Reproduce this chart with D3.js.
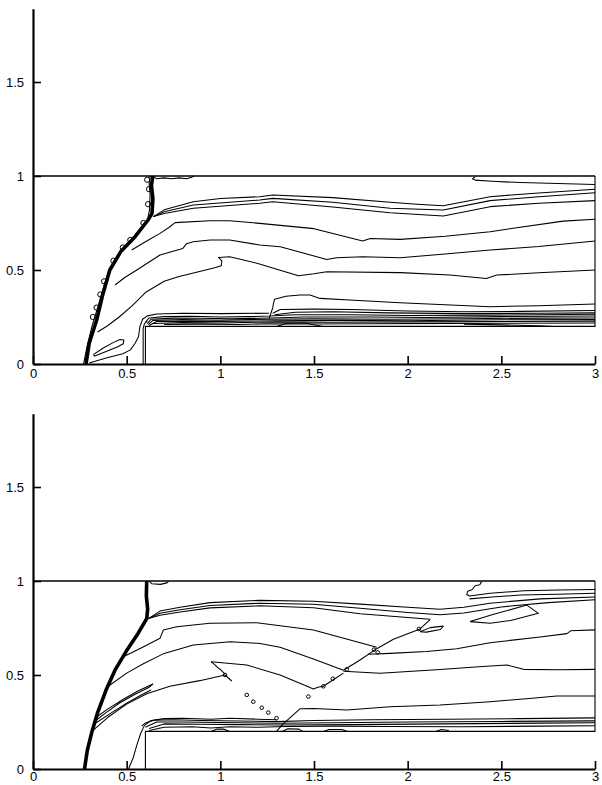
<!DOCTYPE html>
<html><head><meta charset="utf-8">
<script src="https://cdn.jsdelivr.net/npm/d3@7"></script>
<style>body{margin:0;background:#fff}</style></head>
<body>
<svg id="c" width="602" height="785"></svg>
<script>
// ---------- axis data ----------
const xMajor = [0, 0.5, 1, 1.5, 2, 2.5, 3];
const xLabels = ["0", "0.5", "1", "1.5", "2", "2.5", "3"];
const yMajor = [0, 0.5, 1, 1.5];
const yLabels = ["0", "0.5", "1", "1.5"];
const xMinor = [0.1,0.2,0.3,0.4,0.6,0.7,0.8,0.9,1.1,1.2,1.3,1.4,1.6,1.7,1.8,1.9,2.1,2.2,2.3,2.4,2.6,2.7,2.8,2.9];
const yMinor = [0.1,0.2,0.3,0.4,0.6,0.7,0.8,0.9,1.1,1.2,1.3,1.4,1.6,1.7,1.8];

// ---------- geometry of the channel ----------
const wallTop = [[0,1],[3,1]];
const stepOutline = [[0.6,0],[0.6,0.2],[3,0.2],[3,1]];

// ---------- top panel contours ----------
const topShock = [[0.283,0],[0.30,0.11],[0.34,0.234],[0.37,0.36],[0.41,0.5],[0.47,0.6],[0.545,0.677],[0.614,0.766],[0.635,0.80],[0.64,0.88],[0.632,0.95],[0.64,1.0]];
const topShockEdge = [[0.27,0.0],[0.29,0.1],[0.315,0.2],[0.33,0.25],[0.345,0.3],[0.36,0.35],[0.38,0.42],[0.4,0.48],[0.43,0.53],[0.46,0.58],[0.5,0.63],[0.54,0.67],[0.58,0.72],[0.61,0.76],[0.622,0.82],[0.625,0.9],[0.62,0.96],[0.625,1.0]];
const topShockBlobs = [[0.33,0.25],[0.35,0.3],[0.37,0.37],[0.39,0.44],[0.44,0.55],[0.49,0.62],[0.53,0.66],[0.6,0.75],[0.625,0.85],[0.63,0.93],[0.62,0.98]];
const topContours = [
  [[0.64,1.0],[0.66,0.985],[0.70,0.99],[0.74,0.985],[0.78,0.99],[0.82,0.985],[0.85,0.995],[0.86,1.0]],
  [[2.36,0.995],[2.345,0.985],[2.36,0.978],[2.45,0.972],[2.6,0.965],[2.8,0.96],[3.0,0.955]],
  [[0.643,0.784],[0.70,0.82],[0.856,0.863],[1.0,0.88],[1.21,0.89],[1.28,0.899],[1.6,0.885],[1.906,0.86],[2.05,0.85],[2.19,0.842],[2.44,0.89],[2.7,0.91],[3.0,0.929]],
  [[0.643,0.784],[0.70,0.81],[0.856,0.846],[1.21,0.872],[1.28,0.881],[1.6,0.86],[1.906,0.828],[2.19,0.819],[2.44,0.869],[2.7,0.89],[3.0,0.911]],
  [[0.643,0.784],[0.70,0.80],[0.856,0.828],[1.21,0.855],[1.28,0.863],[1.6,0.835],[1.906,0.805],[2.19,0.787],[2.44,0.837],[2.7,0.855],[3.0,0.869]],
  [[0.527,0.606],[0.6,0.65],[0.678,0.695],[0.731,0.73],[0.758,0.752],[0.945,0.762],[1.05,0.762],[1.21,0.748],[1.5,0.72],[1.76,0.654],[1.8,0.668],[1.96,0.663],[2.2,0.68],[2.44,0.704],[2.83,0.76],[3.0,0.77]],
  [[0.438,0.42],[0.49,0.46],[0.554,0.5],[0.678,0.58],[0.785,0.61],[0.80,0.615],[0.82,0.64],[0.856,0.65],[0.945,0.66],[1.05,0.66],[1.21,0.633],[1.32,0.624],[1.568,0.556],[1.62,0.565],[1.76,0.571],[1.96,0.565],[2.2,0.585],[2.44,0.606],[2.7,0.625],[3.0,0.654]],
  [[0.345,0.17],[0.40,0.205],[0.46,0.25],[0.53,0.31],[0.6,0.38],[0.70,0.44],[0.78,0.465],[0.90,0.495],[0.97,0.512],[1.005,0.522],[1.008,0.55],[0.99,0.567],[1.05,0.571],[1.2,0.535],[1.417,0.469],[1.5,0.48],[1.568,0.491],[1.96,0.486],[2.226,0.473],[2.42,0.455],[2.476,0.473],[2.7,0.485],[3.0,0.5]],
  [[0.322,0.05],[0.375,0.085],[0.43,0.115],[0.464,0.13],[0.485,0.128],[0.482,0.108],[0.45,0.09],[0.41,0.074],[0.36,0.055],[0.33,0.042],[0.322,0.05]],
  [[0.30,0.005],[0.40,0.035],[0.48,0.055],[0.52,0.075],[0.545,0.11],[0.563,0.145],[0.571,0.2],[0.585,0.238],[0.61,0.256],[0.66,0.266],[0.8,0.27],[1.0,0.268],[1.26,0.27]],
  [[0.588,0],[0.588,0.19],[0.595,0.215],[0.61,0.228]],
  [[0.6,0.222],[0.62,0.245],[0.7,0.252],[0.85,0.254],[1.0,0.25],[1.15,0.252],[1.26,0.255],[1.4,0.262],[1.7,0.262],[2.0,0.258],[2.4,0.26],[2.7,0.262],[3.0,0.265]],
  [[0.61,0.215],[0.63,0.238],[0.75,0.244],[0.9,0.243],[1.05,0.24],[1.2,0.243],[1.27,0.245],[1.45,0.25],[1.8,0.25],[2.1,0.247],[2.5,0.252],[3.0,0.255]],
  [[0.615,0.21],[0.64,0.232],[0.8,0.236],[1.0,0.233],[1.15,0.236],[1.27,0.238],[1.5,0.24],[1.9,0.238],[2.3,0.241],[2.7,0.244],[3.0,0.245]],
  [[0.62,0.205],[0.66,0.226],[0.85,0.228],[1.0,0.226],[1.2,0.229],[1.3,0.23],[1.6,0.232],[2.0,0.23],[2.5,0.235],[3.0,0.236]],
  [[0.64,0.215],[0.8,0.22],[1.0,0.218],[1.2,0.222],[1.3,0.224],[1.6,0.222],[2.0,0.224],[2.5,0.226],[3.0,0.228]],
  [[0.7,0.21],[0.9,0.212],[1.1,0.21],[1.25,0.214],[1.4,0.213],[1.8,0.214],[2.2,0.216],[3.0,0.218]],
  [[1.26,0.24],[1.27,0.27],[1.28,0.3],[1.283,0.32],[1.29,0.345],[1.35,0.36],[1.425,0.367],[1.479,0.367],[1.532,0.349],[1.69,0.34],[1.96,0.326],[2.2,0.315],[2.44,0.305],[2.7,0.31],[3.0,0.319]],
  [[1.28,0.27],[1.32,0.29],[1.5,0.292],[1.7,0.29],[2.0,0.282],[2.3,0.278],[2.6,0.28],[3.0,0.285]],
  [[1.29,0.262],[1.4,0.275],[1.6,0.278],[1.9,0.272],[2.3,0.268],[2.7,0.27],[3.0,0.272]],
  [[1.3,0.2],[1.35,0.215],[1.45,0.218],[1.52,0.205],[1.55,0.2]],
  [[2.3,0.212],[2.5,0.208],[2.7,0.203],[2.78,0.2]]
];

// ---------- bottom panel contours ----------
const botShock = [[0.275,0],[0.29,0.1],[0.315,0.2],[0.345,0.3],[0.39,0.42],[0.44,0.53],[0.50,0.63],[0.56,0.72],[0.607,0.80],[0.612,0.85],[0.605,0.92],[0.607,1.0]];
const botDots = [[1.141,0.394],[1.176,0.358],[1.221,0.326],[1.256,0.3],[1.30,0.27],[1.47,0.385],[1.55,0.44],[1.60,0.48],[1.675,0.53],[1.82,0.635],[1.84,0.62],[2.06,0.745],[1.025,0.5]];
const botContours = [
  [[0.62,1.0],[0.635,0.985],[0.68,0.982],[0.715,0.99],[0.725,1.0]],
  [[2.395,0.998],[2.385,0.98],[2.36,0.975],[2.345,0.955],[2.32,0.945],[2.315,0.928],[2.33,0.92],[2.44,0.935],[2.62,0.948],[2.8,0.952],[3.0,0.955]],
  [[2.33,0.905],[2.45,0.915],[2.6,0.925],[2.8,0.93],[3.0,0.935]],
  [[0.616,0.80],[0.678,0.84],[0.785,0.86],[0.945,0.885],[1.212,0.897],[1.497,0.892],[1.746,0.877],[2.0,0.86],[2.173,0.85],[2.3,0.86],[2.44,0.882],[2.707,0.905],[3.0,0.915]],
  [[0.616,0.80],[0.678,0.828],[0.785,0.847],[0.945,0.87],[1.212,0.882],[1.497,0.876],[1.746,0.855],[2.0,0.832],[2.173,0.82],[2.3,0.83],[2.5,0.862],[2.75,0.885],[3.0,0.9]],
  [[0.616,0.80],[0.678,0.818],[0.785,0.835],[0.945,0.857],[1.212,0.868],[1.497,0.858],[1.746,0.826],[1.95,0.81],[2.12,0.797]],
  [[2.333,0.784],[2.45,0.82],[2.636,0.872],[2.698,0.828],[2.55,0.79],[2.44,0.775],[2.333,0.784]],
  [[2.066,0.73],[2.12,0.752],[2.19,0.76],[2.175,0.742],[2.1,0.728],[2.066,0.73]],
  [[0.482,0.597],[0.58,0.645],[0.678,0.695],[0.696,0.739],[0.767,0.757],[0.945,0.775],[1.194,0.778],[1.497,0.739],[1.835,0.648]],
  [[1.657,0.525],[1.746,0.58],[1.835,0.64],[1.924,0.69],[2.066,0.745],[2.12,0.795]],
  [[1.79,0.61],[1.906,0.615],[2.1,0.625],[2.262,0.64],[2.44,0.672],[2.707,0.702],[2.85,0.72],[2.87,0.735],[3.0,0.74]],
  [[0.402,0.44],[0.5,0.51],[0.589,0.56],[0.7,0.615],[0.856,0.66],[1.052,0.677],[1.212,0.668],[1.319,0.648],[1.497,0.585],[1.657,0.525]],
  [[1.657,0.52],[1.853,0.509],[2.173,0.529],[2.4,0.545],[2.53,0.553],[2.618,0.53],[2.8,0.528],[3.0,0.53]],
  [[0.322,0.207],[0.40,0.275],[0.5,0.345],[0.607,0.40],[0.731,0.44],[0.89,0.47],[1.025,0.5],[1.061,0.468]],
  [[1.025,0.505],[1.0,0.53],[0.985,0.54],[0.97,0.555],[0.95,0.571]],
  [[0.95,0.571],[1.141,0.553],[1.319,0.5],[1.45,0.445],[1.497,0.425],[1.52,0.435],[1.55,0.44],[1.603,0.475],[1.657,0.51]],
  [[0.33,0.27],[0.40,0.32],[0.48,0.37],[0.56,0.415],[0.64,0.452],[0.62,0.435],[0.54,0.395],[0.46,0.35],[0.39,0.3],[0.335,0.258]],
  [[0.335,0.245],[0.42,0.30],[0.5,0.35],[0.58,0.395],[0.63,0.42]],
  [[1.30,0.2],[1.33,0.235],[1.38,0.28],[1.425,0.32],[1.5,0.322],[1.675,0.314],[1.906,0.331],[2.173,0.34],[2.44,0.358],[2.65,0.375],[2.796,0.388],[3.0,0.388]],
  [[0.51,0],[0.535,0.06],[0.555,0.13],[0.575,0.19],[0.595,0.232],[0.63,0.258],[0.7,0.268],[0.8,0.27],[0.95,0.265],[1.05,0.27],[1.2,0.265],[1.3,0.262]],
  [[0.58,0.228],[0.6,0.245],[0.65,0.26],[0.75,0.262],[0.9,0.258],[1.1,0.255],[1.3,0.252],[1.5,0.258],[1.8,0.262],[2.2,0.265],[2.6,0.268],[3.0,0.272]],
  [[0.6,0.222],[0.66,0.25],[0.8,0.25],[1.0,0.247],[1.32,0.243],[1.6,0.246],[2.0,0.25],[2.5,0.253],[3.0,0.256]],
  [[0.62,0.215],[0.7,0.24],[0.9,0.238],[1.1,0.236],[1.33,0.234],[1.7,0.236],[2.2,0.24],[2.7,0.244],[3.0,0.246]],
  [[0.62,0.205],[0.7,0.222],[0.85,0.225],[0.95,0.218],[1.05,0.225],[1.2,0.222],[1.35,0.226],[1.6,0.228],[1.9,0.226],[2.3,0.225],[2.7,0.228],[3.0,0.23]],
  [[0.95,0.2],[0.98,0.212],[1.02,0.212],[1.05,0.2]],
  [[1.33,0.2],[1.36,0.214],[1.42,0.212],[1.44,0.2]],
  [[1.55,0.2],[1.58,0.21],[1.65,0.21],[1.68,0.2]],
  [[2.15,0.2],[2.18,0.21],[2.22,0.205]]
];

// ---------- drawing ----------
const svg = d3.select("#c");
const FONT = "'Liberation Sans', Arial, Helvetica, sans-serif";
const x = d3.scaleLinear().domain([0,3]).range([33,595]);

function panel(y0, xPad, shock, edge, blobs, contours, dots) {
  const y = d3.scaleLinear().domain([0,1.89]).range([y0, y0 - 1.89*188]);
  const g = svg.append("g");
  const line = d3.line().x(d => x(d[0])).y(d => y(d[1]));

  // axes
  const ax = g.append("g").attr("transform", `translate(0,${y0})`);
  ax.call(d3.axisBottom(x).tickValues(xMinor).tickSizeInner(-4).tickSizeOuter(0).tickFormat(""));
  ax.call(d3.axisBottom(x).tickValues(xMajor).tickSizeInner(-8).tickSizeOuter(0).tickPadding(xPad)
      .tickFormat((d,i) => xLabels[i]));
  const ay = g.append("g").attr("transform", `translate(${x(0)},0)`);
  ay.call(d3.axisLeft(y).tickValues(yMinor).tickSizeInner(-4).tickSizeOuter(0).tickFormat(""));
  ay.call(d3.axisLeft(y).tickValues(yMajor).tickSizeInner(-8).tickSizeOuter(0).tickPadding(9)
      .tickFormat((d,i) => yLabels[i]));
  [ax, ay].forEach(a => {
    a.selectAll("path.domain").attr("stroke", "#000").attr("stroke-width", 2.2);
    a.selectAll(".tick line").attr("stroke", "#000").attr("stroke-width", 1.6);
    a.selectAll("text").attr("font-family", FONT).attr("font-size", 13).attr("fill", "#000");
  });

  // channel boundary
  g.append("path").attr("d", line(wallTop)).attr("fill","none").attr("stroke","#000").attr("stroke-width",1.3);
  g.append("path").attr("d", line(stepOutline)).attr("fill","none").attr("stroke","#000").attr("stroke-width",1.1);

  // contours
  g.selectAll("path.ct").data(contours).join("path").attr("class","ct")
    .attr("d", line).attr("fill","none").attr("stroke","#000").attr("stroke-width",1.05)
    .attr("stroke-linejoin","round");

  // shock
  if (edge) g.append("path").attr("d", line(edge)).attr("fill","none").attr("stroke","#000").attr("stroke-width",1.1);
  g.append("path").attr("d", line(shock)).attr("fill","none").attr("stroke","#000").attr("stroke-width",3.6)
    .attr("stroke-linejoin","round");
  if (blobs) g.selectAll("circle.bl").data(blobs).join("circle").attr("class","bl")
    .attr("cx", d => x(d[0]) - 2).attr("cy", d => y(d[1])).attr("r", 2.6)
    .attr("fill","none").attr("stroke","#000").attr("stroke-width",1);
  if (dots) g.selectAll("circle.dt").data(dots).join("circle").attr("class","dt")
    .attr("cx", d => x(d[0])).attr("cy", d => y(d[1])).attr("r", 1.8)
    .attr("fill","none").attr("stroke","#000").attr("stroke-width",1);
}

panel(364, 5, topShock, topShockEdge, topShockBlobs, topContours, null);
panel(769, 3, botShock, null, null, botContours, botDots);
</script>
</body></html>
